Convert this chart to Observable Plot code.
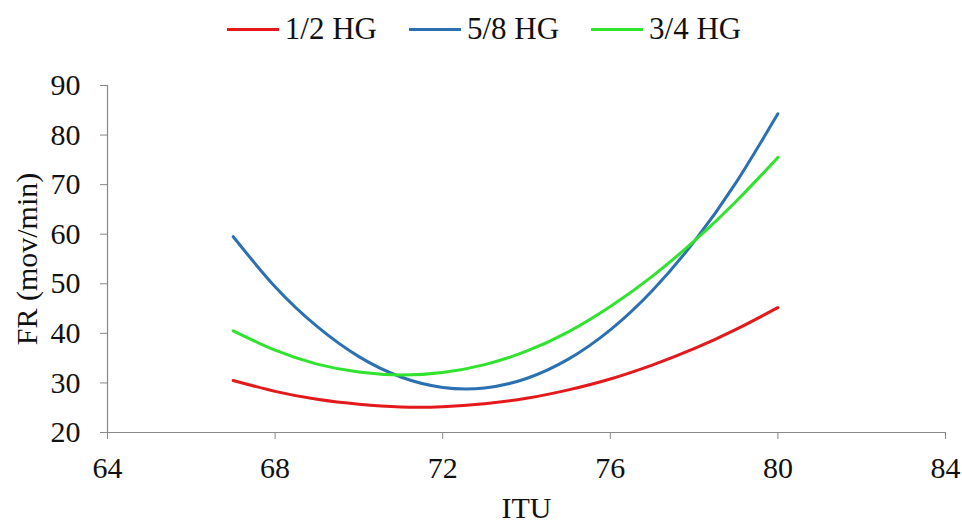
<!DOCTYPE html>
<html>
<head>
<meta charset="utf-8">
<script src="https://cdn.jsdelivr.net/npm/d3@7"></script>
<script src="https://cdn.jsdelivr.net/npm/@observablehq/plot@0.6"></script>
<style>
  html, body { margin: 0; padding: 0; background: #fff; }
  body { width: 962px; height: 524px; overflow: hidden; font-family: "Liberation Serif", "Times New Roman", serif; }
  #legend { height: 58px; display: flex; align-items: center; justify-content: center; gap: 32px; padding-left: 6px; box-sizing: border-box; font-size: 31px; color: #111; }
  .item { display: flex; align-items: center; }
  .sw { width: 52px; height: 3px; margin-right: 6px; }
</style>
</head>
<body>
<div id="legend"></div>
<div id="chart"></div>
<script>
const series = ["1/2 HG", "5/8 HG", "3/4 HG"];
const colors = ["#e3191c", "#2b70b2", "#2fe32f"];
const itu = [67, 68, 69, 70, 71, 72, 73, 74, 75, 76, 77, 78, 79, 80];
const frHalf = [30.5, 28.3, 26.7, 25.7, 25.15, 25.2, 25.8, 26.9, 28.6, 30.8, 33.6, 36.9, 40.8, 45.2];
const frFiveEighths = [59.5, 49.4, 41.4, 35.3, 31.2, 29.1, 29.0, 30.9, 34.8, 40.7, 48.6, 58.5, 70.4, 84.3];
const frThreeQuarters = [40.5, 36.6, 33.8, 32.2, 31.6, 32.1, 33.7, 36.4, 40.3, 45.4, 51.5, 58.6, 66.6, 75.5];
const xTicks = [64, 68, 72, 76, 80, 84];
const yTicks = [20, 30, 40, 50, 60, 70, 80, 90];

const valuesBySeries = [frHalf, frFiveEighths, frThreeQuarters];
const data = [];
series.forEach((s, i) => itu.forEach((x, j) => data.push({series: s, itu: x, fr: valuesBySeries[i][j]})));

const legend = document.getElementById("legend");
series.forEach((s, i) => {
  const it = document.createElement("div");
  it.className = "item";
  it.innerHTML = `<span class="sw" style="background:${colors[i]}"></span><span>${s}</span>`;
  legend.appendChild(it);
});

const chart = Plot.plot({
  width: 962,
  height: 466,
  marginLeft: 107,
  marginRight: 17,
  marginTop: 27,
  marginBottom: 92,
  style: {fontFamily: "Liberation Serif, Times New Roman, serif", fontSize: "30px", color: "#111", background: "#fff"},
  x: {domain: [64, 84]},
  y: {domain: [20, 90]},
  color: {domain: series, range: colors},
  marks: [
    Plot.axisX({ticks: xTicks, tickSize: 7, tickPadding: 17, stroke: "#888", fontSize: 30, label: "ITU", labelAnchor: "center", labelOffset: 85, labelArrow: "none"}),
    Plot.axisY({ticks: yTicks, tickSize: 7, tickPadding: 20, stroke: "#888", fontSize: 30, label: "FR (mov/min)", labelAnchor: "center", labelOffset: 92, labelArrow: "none"}),
    Plot.ruleX([64], {stroke: "#888", strokeWidth: 1.2}),
    Plot.ruleY([20], {stroke: "#888", strokeWidth: 1.2}),
    Plot.line(data, {x: "itu", y: "fr", z: "series", stroke: "series", strokeWidth: 3, curve: "natural"})
  ]
});
document.getElementById("chart").appendChild(chart);
</script>
</body>
</html>
